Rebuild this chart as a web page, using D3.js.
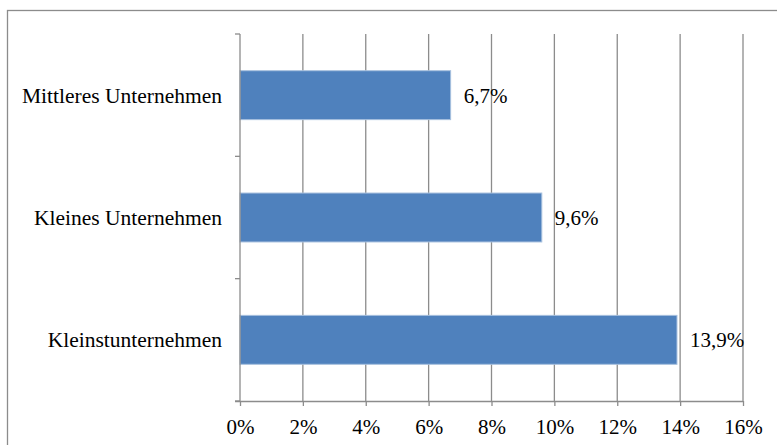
<!DOCTYPE html>
<html>
<head>
<meta charset="utf-8">
<script src="https://cdn.jsdelivr.net/npm/d3@7"></script>
<style>
  html, body { margin: 0; padding: 0; background: #fff; }
  svg { display: block; }
</style>
</head>
<body>
<svg id="chart" width="777" height="445"></svg>
<script>
// data
const categories = ['Mittleres Unternehmen', 'Kleines Unternehmen', 'Kleinstunternehmen'];
const values = [6.7, 9.6, 13.9];
const valueLabels = ['6,7%', '9,6%', '13,9%'];
const xTicks = [0, 2, 4, 6, 8, 10, 12, 14, 16];

const svg = d3.select('#chart');
const font = '"Liberation Serif", "Times New Roman", serif';
const gridColor = '#8c8c8c';

// outer frame (right and bottom edges fall outside the picture)
svg.append('rect')
    .attr('x', 7.5)
    .attr('y', 10.5)
    .attr('width', 800)
    .attr('height', 500)
    .attr('fill', 'none')
    .attr('stroke', '#8c8c8c')
    .attr('stroke-width', 1.3);

const plot = { left: 240, right: 743, top: 34, bottom: 401 };

const x = d3.scaleLinear()
    .domain([0, 16])
    .range([plot.left, plot.right]);

const y = d3.scaleBand()
    .domain(categories)
    .range([plot.top, plot.bottom])
    .paddingInner(0.6)
    .paddingOuter(0.3);

const g = svg.append('g');

// vertical gridlines
g.selectAll('.grid')
    .data(xTicks.slice(1))
    .enter()
    .append('line')
    .attr('class', 'grid')
    .attr('x1', d => x(d))
    .attr('x2', d => x(d))
    .attr('y1', plot.top)
    .attr('y2', plot.bottom)
    .attr('stroke', gridColor)
    .attr('stroke-width', 1.3);

// bars
g.selectAll('.bar')
    .data(values)
    .enter()
    .append('rect')
    .attr('class', 'bar')
    .attr('x', x(0))
    .attr('y', (d, i) => y(categories[i]))
    .attr('width', d => x(d) - x(0))
    .attr('height', y.bandwidth())
    .attr('fill', '#4f81bd')
    .attr('stroke', '#a7c0de')
    .attr('stroke-width', 1);

// value labels
g.selectAll('.value')
    .data(values)
    .enter()
    .append('text')
    .attr('class', 'value')
    .attr('x', d => x(d) + 13)
    .attr('y', (d, i) => y(categories[i]) + y.bandwidth() / 2)
    .attr('dy', '0.35em')
    .style('font-family', font)
    .style('font-size', '21px')
    .attr('fill', '#000')
    .text((d, i) => valueLabels[i]);

// x axis
const xAxis = d3.axisBottom(x)
    .tickValues(xTicks)
    .tickSize(5)
    .tickFormat(d => d + '%');

const ax = g.append('g')
    .attr('transform', `translate(0,${plot.bottom})`)
    .call(xAxis);
ax.select('.domain').attr('stroke', gridColor).attr('stroke-width', 1.3)
    .attr('d', `M${plot.left - 5},0.5H${plot.right}`);
ax.selectAll('.tick line').attr('stroke', gridColor).attr('stroke-width', 1.3);
ax.selectAll('.tick text')
    .style('font-family', font)
    .style('font-size', '21px')
    .attr('fill', '#000')
    .attr('y', 33)
    .attr('dy', 0);

// y axis: category boundaries as ticks
const yEdges = d3.range(categories.length + 1)
    .map(i => plot.top + i * (plot.bottom - plot.top) / categories.length);

g.append('line')
    .attr('x1', plot.left)
    .attr('x2', plot.left)
    .attr('y1', plot.top)
    .attr('y2', plot.bottom)
    .attr('stroke', gridColor)
    .attr('stroke-width', 1.3);

g.selectAll('.ytick')
    .data(yEdges)
    .enter()
    .append('line')
    .attr('class', 'ytick')
    .attr('x1', plot.left - 5)
    .attr('x2', plot.left)
    .attr('y1', d => d)
    .attr('y2', d => d)
    .attr('stroke', gridColor)
    .attr('stroke-width', 1.3);

g.selectAll('.cat')
    .data(categories)
    .enter()
    .append('text')
    .attr('class', 'cat')
    .attr('x', plot.left - 18)
    .attr('y', d => y(d) + y.bandwidth() / 2)
    .attr('dy', '0.35em')
    .attr('text-anchor', 'end')
    .style('font-family', font)
    .style('font-size', '21.5px')
    .attr('fill', '#000')
    .text(d => d);
</script>
</body>
</html>
